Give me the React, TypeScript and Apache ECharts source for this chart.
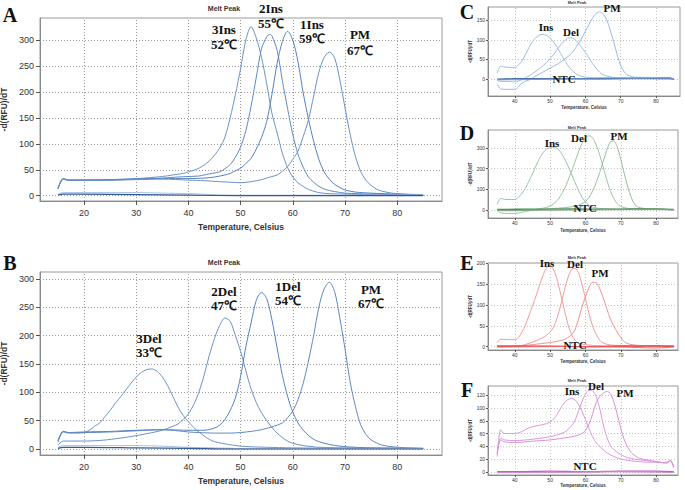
import React, { useEffect, useRef } from 'react';
import * as echarts from 'echarts';

// ---------------- tick values ----------------
const bigXTicks = [20, 30, 40, 50, 60, 70, 80];
const aYTicks = [0, 50, 100, 150, 200, 250, 300];
const bYTicks = [0, 50, 100, 150, 200, 250, 300];
const smallXTicks = [40, 50, 60, 70, 80];
const cYTicks = [0, 50, 100, 150];
const dYTicks = [0, 100, 200, 300];
const eYTicks = [0, 50, 100, 150, 200];
const fYTicks = [0, 20, 40, 60, 80, 100, 120];

// ---------------- panel A: insertions (temperature, -d(RFU)/dT) ----------------
const a3Ins = [[15,14],[16,33],[17,30],[20,30],[25,31],[30,33],[35,37],[37,40],[39,43],[40,46],[41,49],[42,53],[43,59],[44,67],[45,78],[46,92],[47,113],[48,150],[49,195],[50,245],[51,300],[52,326],[53,304],[54,267],[55,216],[56,159],[57,121],[58,82],[59,54],[60,36],[61,25],[62,18],[63,12],[65,6],[67,4],[70,3],[75,2],[80,1],[85,1]];
const a2Ins = [[15,13],[16,32],[17,30],[20,30],[25,30],[30,32],[35,34],[38,36],[40,37],[42,38],[43,40],[44,42],[45,44],[46,46],[47,52],[48,60],[49,74],[50,94],[51,125],[52,172],[53,228],[54,283],[55,306],[55.6,311],[56,308],[57,280],[58,222],[59,168],[60,118],[61,80],[62,55],[63,36],[64,26],[65,18],[66,13],[67,10],[68,8],[70,5],[75,3],[80,2],[85,1]];
const a1Ins = [[15,14],[16,33],[17,30],[20,30],[25,31],[30,32],[35,33],[40,33],[43,34],[45,36],[47,40],[48,43],[49,48],[50,53],[51,62],[52,72],[53,90],[54,112],[55,143],[56,195],[57,255],[58,297],[59,317],[60,300],[61,258],[62,198],[63,148],[64,105],[65,70],[66,46],[67,32],[68,22],[69,16],[70,11],[72,7],[75,5],[80,3],[85,1]];
const aPM = [[15,14],[16,32],[17,30],[20,30],[25,30],[30,31],[35,32],[40,30],[43,29],[46,27],[48,26],[50,25],[52,27],[54,31],[55,34],[56,37],[57,40],[58,47],[59,56],[60,70],[61,86],[62,114],[63,146],[64,192],[65,238],[66,266],[67,277],[68,266],[69,224],[70,170],[71,118],[72,76],[73,47],[74,30],[75,20],[76,13],[77,9],[79,5],[82,3],[85,2]];
const aNTC1 = [[15,3],[16,6],[20,6],[25,6],[30,6],[35,5],[40,4],[45,2],[50,1],[55,1],[60,1],[70,1],[85,1]];
const aNTC2 = [[15,1],[16,3],[20,3],[30,2],[40,1],[50,0],[60,0],[70,0],[85,0]];

// ---------------- panel B: deletions ----------------
const b3Del = [[15,14],[16,30],[17,28],[19,28],[20,29],[21,33],[22,40],[23,46],[24,57],[25,68],[26,81],[27,92],[28,104],[29,116],[30,127],[31,135],[32,140],[33,141],[34,137],[35,127],[36,112],[37,93],[38,74],[39,59],[40,48],[41,38],[42,30],[43,23],[44,17],[45,13],[47,9],[50,5],[55,3],[60,2],[70,1],[85,1]];
const b2Del = [[15,7],[16,14],[18,14],[20,14],[23,15],[26,18],[29,22],[32,27],[35,33],[37,40],[38,44],[39,52],[40,62],[41,78],[42,100],[43,130],[44,165],[45,195],[46,218],[47,231],[48,225],[49,200],[50,172],[51,138],[52,106],[53,82],[54,64],[55,50],[56,38],[57,28],[58,20],[59,14],[60,10],[62,6],[65,3],[70,2],[85,1]];
const b1Del = [[15,12],[16,31],[17,29],[20,30],[25,31],[30,33],[35,34],[40,33],[43,33],[45,37],[46,42],[47,52],[48,68],[49,90],[50,128],[51,180],[52,222],[53,262],[54,276],[55,265],[56,228],[57,178],[58,130],[59,93],[60,65],[61,46],[62,33],[63,24],[64,17],[65,13],[67,8],[69,5],[72,3],[75,2],[85,1]];
const bPM = [[15,15],[16,31],[17,29],[20,29],[25,30],[30,32],[35,34],[38,32],[40,30],[42,29],[45,28],[48,28],[50,29],[52,31],[54,34],[56,39],[58,46],[59,55],[60,67],[61,87],[62,116],[63,155],[64,200],[65,250],[66,282],[67,294],[68,278],[69,232],[70,177],[71,118],[72,75],[73,43],[74,26],[75,16],[76,11],[77,7],[79,4],[82,2],[85,1]];
const bNTC1 = [[15,3],[16,6],[20,6],[25,6],[30,6],[35,5],[40,3],[45,2],[50,1],[60,1],[70,1],[85,1]];
const bNTC2 = [[15,1],[16,3],[20,3],[30,2],[40,1],[50,0],[60,0],[70,0],[85,0]];

// ---------------- panel C ----------------
const cIns = [[35,15],[36,33],[37,31],[38,30],[40,29],[41,36],[42,46],[43,62],[44,80],[45,95],[46,106],[47,112],[48,114],[49,111],[50,104],[51,94],[52,81],[53,65],[54,49],[55,35],[56,24],[57,16],[58,10],[60,5],[65,3],[70,3],[80,3],[85,1]];
const cDel = [[35,-3],[36,-6],[38,-6],[40,-7],[41,-5],[42,-1],[44,8],[46,20],[48,34],[50,52],[52,75],[53,87],[54,97],[55,104],[56,105],[57,101],[58,92],[59,80],[60,68],[61,54],[62,40],[63,28],[64,18],[65,11],[66,8],[68,4],[70,3],[80,4],[85,1]];
const cPM = [[35,-12],[36,-25],[38,-26],[40,-26],[41,-20],[42,-10],[44,-2],[46,8],[48,18],[50,28],[52,38],[54,50],[56,65],[58,90],[60,122],[62,155],[63,167],[64,171],[65,166],[66,152],[67,125],[68,95],[69,62],[70,35],[71,18],[72,10],[74,5],[80,4],[85,0]];
const cNTC1 = [[35,0],[40,1],[50,1],[60,1],[70,2],[80,2],[84,3],[85,-1]];
const cNTC2 = [[35,-2],[45,-1],[55,0],[65,0],[75,1],[85,0]];

// ---------------- panel D ----------------
const dIns = [[35,27],[36,55],[37,51],[38,50],[40,50],[41,60],[42,80],[43,105],[44,140],[45,175],[46,215],[47,250],[48,278],[49,295],[50,303],[51,305],[52,298],[53,280],[54,250],[55,215],[56,175],[57,135],[58,95],[59,62],[60,38],[61,22],[62,13],[64,6],[70,3],[80,3],[85,0]];
const dDel = [[35,-5],[36,-15],[38,-18],[40,-18],[42,-12],[44,-5],[46,2],[48,8],[50,18],[52,45],[53,70],[54,100],[55,140],[56,185],[57,232],[58,280],[59,322],[60,350],[61,360],[62,350],[63,318],[64,268],[65,208],[66,148],[67,95],[68,55],[69,30],[70,16],[72,7],[75,4],[80,4],[85,0]];
const dPM = [[35,0],[36,-5],[40,-5],[45,0],[50,5],[55,12],[58,22],[60,40],[61,60],[62,90],[63,130],[64,180],[65,235],[66,288],[67,328],[68,335],[69,305],[70,245],[71,175],[72,110],[73,58],[74,25],[75,12],[77,6],[80,4],[85,0]];
const dNTC1 = [[35,2],[45,3],[55,4],[65,3],[75,4],[85,2]];
const dNTC2 = [[35,-3],[50,-2],[65,0],[80,1],[85,-1]];

// ---------------- panel E ----------------
const eIns = [[35,10],[36,18],[38,17],[40,17],[41,22],[42,35],[43,52],[44,75],[45,98],[46,122],[47,148],[48,172],[49,190],[50,194],[51,184],[52,160],[53,125],[54,90],[55,55],[56,30],[57,16],[58,9],[60,5],[62,3],[65,2],[85,1]];
const eDel = [[35,2],[40,2],[42,3],[44,8],[46,14],[48,22],[50,35],[51,48],[52,70],[53,100],[54,135],[55,165],[56,185],[57,188],[58,178],[59,150],[60,115],[61,80],[62,50],[63,30],[64,16],[65,9],[67,4],[70,3],[85,1]];
const ePM = [[35,0],[40,1],[45,5],[50,10],[52,13],[54,17],[55,22],[56,28],[57,40],[58,65],[59,95],[60,120],[61,142],[62,155],[63,154],[64,140],[65,118],[66,92],[67,68],[68,50],[69,35],[70,22],[71,12],[72,7],[75,3],[85,1]];
const eNTC1 = [[35,1],[50,1],[60,0],[70,1],[80,2],[85,1]];
const eNTC2 = [[35,-1],[50,0],[70,-1],[80,-3],[85,-1]];

// ---------------- panel F ----------------
const fIns = [[35,24],[36,66],[37,60],[38,60],[40,60],[42,63],[44,69],[46,72],[48,74],[50,78],[51,83],[52,90],[53,100],[54,108],[55,113],[56,115],[57,113],[58,106],[59,95],[60,82],[61,68],[62,55],[63,46],[64,40],[66,30],[68,24],[70,20],[72,18],[75,16],[78,15],[80,15],[82,14],[84,17],[85,8]];
const fDel = [[35,30],[36,53],[37,50],[40,49],[45,51],[50,55],[52,58],[54,62],[55,66],[56,72],[57,80],[58,95],[59,110],[60,122],[61,128],[62,127],[63,118],[64,100],[65,75],[66,55],[67,42],[68,35],[70,27],[72,22],[75,19],[80,16],[83,14],[84,18],[85,8]];
const fPM = [[35,28],[36,50],[37,47],[40,46],[45,48],[50,50],[54,53],[57,56],[59,60],[60,65],[61,75],[62,90],[63,108],[64,118],[65,123],[66,126],[67,123],[68,110],[69,90],[70,68],[71,50],[72,38],[73,30],[75,22],[78,18],[80,16],[83,14],[84,18],[85,6]];
const fNTC1 = [[35,0],[40,0],[50,1],[60,0],[70,1],[80,1],[85,0]];
const fNTC2 = [[35,-1],[50,-1],[65,0],[85,-1]];

const SANS = '"Liberation Sans", Arial, sans-serif';
const SERIF = '"Liberation Serif", "Times New Roman", serif';

type Panel = {
  grid: { left: number; top: number; width: number; height: number };
  x: [number, number];
  y: [number, number];
  xt: number[]; yt: number[];
  big: boolean; xGap: number; yGap: number;
};

const panels: Panel[] = [
  { grid: { left: 40, top: 18, width: 402, height: 183 }, x: [11.55, 88.6], y: [-10.2, 342.5], xt: bigXTicks, yt: aYTicks, big: true, xGap: 21, yGap: 28 },
  { grid: { left: 40, top: 272, width: 402, height: 183 }, x: [11.55, 88.6], y: [-10.6, 312], xt: bigXTicks, yt: bYTicks, big: true, xGap: 21, yGap: 28 },
  { grid: { left: 488, top: 7, width: 192, height: 89 }, x: [32.4, 86.8], y: [-43, 183.5], xt: smallXTicks, yt: cYTicks, big: false, xGap: 9, yGap: 14 },
  { grid: { left: 488, top: 130, width: 190, height: 88 }, x: [32.4, 86.2], y: [-40, 388], xt: smallXTicks, yt: dYTicks, big: false, xGap: 10, yGap: 14 },
  { grid: { left: 488, top: 263, width: 190, height: 87 }, x: [32.4, 86.2], y: [-8, 201], xt: smallXTicks, yt: eYTicks, big: false, xGap: 9, yGap: 14 },
  { grid: { left: 488, top: 386, width: 190, height: 89 }, x: [32.4, 86.2], y: [-5, 134.5], xt: smallXTicks, yt: fYTicks, big: false, xGap: 6, yGap: 14 },
];

const seriesSets: { data: number[][]; color: string; width: number }[][] = [
  [
    { data: a3Ins, color: '#6d93ca', width: 1 },
    { data: a2Ins, color: '#5f88c3', width: 1 },
    { data: a1Ins, color: '#5580bf', width: 1 },
    { data: aPM, color: '#6a91c9', width: 1 },
    { data: aNTC1, color: '#a6bfe2', width: 1 },
    { data: aNTC2, color: '#2f5a96', width: 1.2 },
  ],
  [
    { data: b3Del, color: '#6d93ca', width: 1 },
    { data: b2Del, color: '#6a91c9', width: 1 },
    { data: b1Del, color: '#5580bf', width: 1 },
    { data: bPM, color: '#5f88c3', width: 1 },
    { data: bNTC1, color: '#a6bfe2', width: 1 },
    { data: bNTC2, color: '#2f5a96', width: 1.2 },
  ],
  [
    { data: cIns, color: '#a2bde2', width: 1 },
    { data: cDel, color: '#a2bde2', width: 1 },
    { data: cPM, color: '#9bb8e0', width: 1 },
    { data: cNTC1, color: '#4a73ae', width: 1.3 },
    { data: cNTC2, color: '#6f93c6', width: 1 },
  ],
  [
    { data: dIns, color: '#9cc49f', width: 1 },
    { data: dDel, color: '#9cc49f', width: 1 },
    { data: dPM, color: '#96bf99', width: 1 },
    { data: dNTC1, color: '#4f8a5a', width: 1.3 },
    { data: dNTC2, color: '#78a97f', width: 1 },
  ],
  [
    { data: eIns, color: '#f59a9a', width: 1 },
    { data: eDel, color: '#f59a9a', width: 1 },
    { data: ePM, color: '#f39191', width: 1 },
    { data: eNTC1, color: '#e23b3b', width: 1.3 },
    { data: eNTC2, color: '#ee7070', width: 1 },
  ],
  [
    { data: fIns, color: '#dc98dc', width: 1 },
    { data: fDel, color: '#dc98dc', width: 1 },
    { data: fPM, color: '#d890d8', width: 1 },
    { data: fNTC1, color: '#c45ac4', width: 1.4 },
    { data: fNTC2, color: '#d487d4', width: 1 },
  ],
];

// annotation texts: [text, x, y]
const bigNotes: [string, number, number][] = [
  ['3Ins', 224, 29], ['52℃', 224, 44], ['2Ins', 271, 8], ['55℃', 271, 23],
  ['1Ins', 312, 24], ['59℃', 312, 38], ['PM', 360, 34], ['67℃', 360, 50],
  ['3Del', 149, 338], ['33℃', 149, 352], ['2Del', 224, 291], ['47℃', 224, 305],
  ['1Del', 288, 286], ['54℃', 288, 300], ['PM', 371, 289], ['67℃', 371, 303],
];
const smallNotes: [string, number, number][] = [
  ['Ins', 546, 27], ['Del', 571, 32], ['PM', 612, 8], ['NTC', 564, 79],
  ['Ins', 552, 143], ['Del', 579, 138], ['PM', 619, 136], ['NTC', 585, 208],
  ['Ins', 547, 263], ['Del', 575, 264], ['PM', 600, 273], ['NTC', 575, 345],
  ['Ins', 572, 391], ['Del', 596, 386], ['PM', 625, 393], ['NTC', 585, 466],
];
const letters: [string, number, number][] = [
  ['A', 10, 15], ['B', 10, 263], ['C', 467, 12], ['D', 467, 133], ['E', 467, 263], ['F', 467, 390],
];
const meltTitles: [number, number, number][] = [
  [224, 8, 7], [224, 262, 7], [577, 2, 4], [577, 127, 4], [577, 257, 4], [577, 380, 4],
];

function txt(text: string, x: number, y: number, font: string, fill = '#111') {
  return {
    type: 'text', x, y, silent: true, z: 100,
    style: { text, font, fill, textAlign: 'center', align: 'center', textVerticalAlign: 'middle', verticalAlign: 'middle' },
  };
}

export default function App() {
  const ref = useRef<HTMLDivElement>(null);
  useEffect(() => {
    if (!ref.current) return;
    const chart = echarts.init(ref.current, undefined, { renderer: 'svg' });
    const grids: any[] = [];
    const xAxes: any[] = [];
    const yAxes: any[] = [];
    const series: any[] = [];
    panels.forEach((p, i) => {
      const fs = p.big ? 9 : 5;
      const nameFs = p.big ? 8.5 : 4.5;
      const gridColor = p.big ? '#9a9a9a' : '#c4c4c4';
      grids.push({ ...p.grid, show: true, borderColor: '#9a9a9a', borderWidth: 1, backgroundColor: 'transparent', containLabel: false, outerBoundsMode: 'none' });
      xAxes.push({
        type: 'value', gridIndex: i, min: p.x[0], max: p.x[1], position: 'bottom',
        axisLine: { show: true, onZero: false, lineStyle: { color: '#8a8a8a', width: 1 } },
        axisTick: { show: true, customValues: p.xt, length: p.big ? 4 : 2, lineStyle: { color: '#555' } },
        axisLabel: { customValues: p.xt, fontSize: fs, color: '#333', margin: p.big ? 7 : 2, fontFamily: SANS },
        splitLine: { show: false },
        name: 'Temperature, Celsius', nameLocation: 'middle', nameGap: p.xGap,
        nameTextStyle: { fontSize: nameFs, fontWeight: 'bold', color: '#333', fontFamily: SANS },
      });
      yAxes.push({
        type: 'value', gridIndex: i, min: p.y[0], max: p.y[1], position: 'left',
        axisLine: { show: true, onZero: false, lineStyle: { color: '#8a8a8a', width: 1 } },
        axisTick: { show: true, customValues: p.yt, length: p.big ? 4 : 2, lineStyle: { color: '#555' } },
        axisLabel: { customValues: p.yt, fontSize: fs, color: '#333', margin: p.big ? 6 : 3, fontFamily: SANS },
        splitLine: { show: false },
        name: '-d(RFU)/dT', nameLocation: 'middle', nameGap: p.yGap,
        nameTextStyle: { fontSize: nameFs, fontWeight: 'bold', color: '#333', fontFamily: SANS },
      });
      seriesSets[i].forEach((s, k) => {
        const item: any = {
          type: 'line', data: s.data, xAxisIndex: i, yAxisIndex: i, z: 5,
          showSymbol: false, symbol: 'none', smooth: 0.3, silent: true,
          lineStyle: { color: s.color, width: s.width },
        };
        if (k === 0) {
          // dotted grid lines at the tick values
          item.markLine = {
            silent: true, symbol: ['none', 'none'], animation: false, z: 1,
            label: { show: false },
            lineStyle: { color: gridColor, type: [1, 2], width: 1 },
            emphasis: { disabled: true },
            data: [
              ...p.xt.map((v) => ({ xAxis: v })),
              ...p.yt.map((v) => ({ yAxis: v })),
            ],
          };
        }
        series.push(item);
      });
    });

    const graphic: any[] = [];
    bigNotes.forEach(([t, x, y]) => graphic.push(txt(t, x, y, `bold 13px ${SERIF}`)));
    smallNotes.forEach(([t, x, y]) => graphic.push(txt(t, x, y, `bold 11px ${SERIF}`)));
    letters.forEach(([t, x, y]) => graphic.push(txt(t, x, y, `bold 20px ${SERIF}`)));
    meltTitles.forEach(([x, y, s]) => graphic.push(txt('Melt Peak', x, y, `bold ${s}px ${SANS}`, '#333')));

    chart.setOption({
      animation: false,
      backgroundColor: '#fff',
      grid: grids,
      xAxis: xAxes,
      yAxis: yAxes,
      series,
      graphic,
    });
    return () => chart.dispose();
  }, []);
  return <div ref={ref} style={{ position: 'absolute', left: 0, top: 0, width: 685, height: 490, background: '#fff' }} />;
}
